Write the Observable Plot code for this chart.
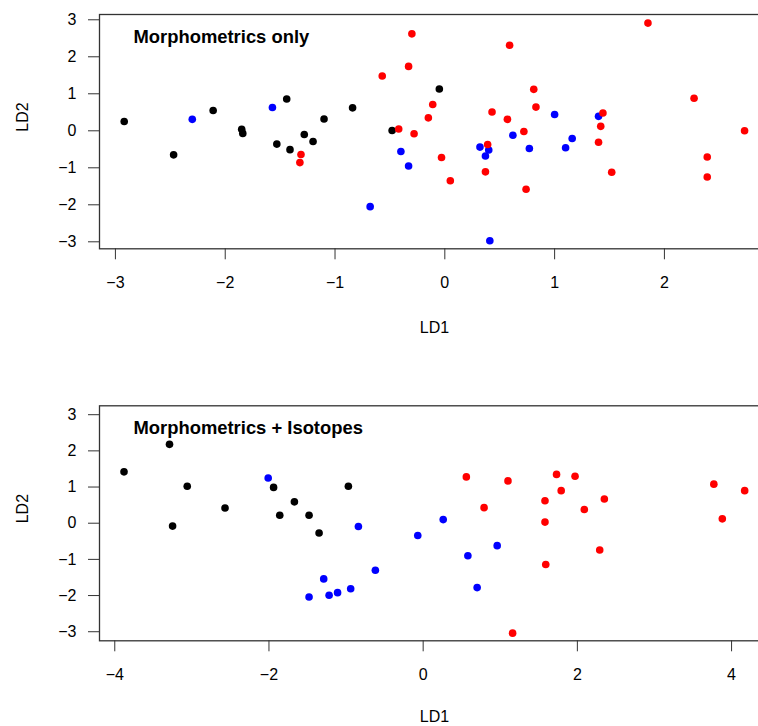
<!DOCTYPE html>
<html>
<head>
<meta charset="utf-8">
<script src="https://cdn.jsdelivr.net/npm/d3@7"></script>
<script src="https://cdn.jsdelivr.net/npm/@observablehq/plot@0.6"></script>
<style>
  html, body { margin: 0; padding: 0; background: #fff; overflow: hidden; width: 758px; }
  svg { display: block; max-width: none !important; }
</style>
</head>
<body>
<div id="chart"></div>
<script>
// ---- data ----
const groupNames = ["group 1", "group 2", "group 3"];
const groupColors = ["#000000", "#0000ff", "#ff0000"];

// Panel 1: Morphometrics only
const morphBlackLD1 = [-2.92, -2.47, -2.11, -1.85, -1.84, -1.44, -1.53, -1.41, -1.28, -1.20, -1.10, -0.84, -0.48, -0.05];
const morphBlackLD2 = [0.25, -0.65, 0.55, 0.04, -0.07, 0.86, -0.36, -0.51, -0.10, -0.29, 0.32, 0.62, 0.01, 1.13];
const morphBlueLD1 = [-2.30, -1.57, -0.68, -0.40, -0.33, 0.32, 0.40, 0.37, 0.62, 0.77, 0.41, 1.00, 1.16, 1.10, 1.40];
const morphBlueLD2 = [0.31, 0.63, -2.05, -0.56, -0.95, -0.44, -0.52, -0.68, -0.12, -0.48, -2.97, 0.44, -0.21, -0.46, 0.39];
const morphRedLD1 = [-1.31, -1.32, -0.57, -0.30, -0.33, -0.42, -0.28, -0.11, -0.15, -0.03, 0.05, 0.59, 0.81, 0.43, 0.83, 0.57, 0.72, 0.39, 0.37, 0.74, 1.85, 1.44, 1.42, 1.40, 1.52, 2.27, 2.73, 2.39, 2.39];
const morphRedLD2 = [-0.64, -0.86, 1.48, 2.62, 1.74, 0.05, -0.08, 0.71, 0.35, -0.72, -1.35, 2.31, 1.12, 0.51, 0.64, 0.31, -0.02, -0.37, -1.11, -1.58, 2.91, 0.48, 0.12, -0.31, -1.12, 0.88, 0.00, -0.71, -1.25];

// Panel 2: Morphometrics + Isotopes
const isoBlackLD1 = [-3.88, -3.29, -3.25, -3.06, -2.57, -1.94, -1.86, -1.67, -1.48, -1.35, -0.97];
const isoBlackLD2 = [1.42, 2.18, -0.08, 1.02, 0.42, 0.99, 0.22, 0.59, 0.22, -0.27, 1.02];
const isoBlueLD1 = [-2.01, -0.84, -0.07, -0.62, -1.29, -1.48, -1.22, -1.11, -0.94, 0.26, 0.58, 0.96, 0.70];
const isoBlueLD2 = [1.25, -0.09, -0.34, -1.30, -1.54, -2.04, -1.99, -1.92, -1.81, 0.10, -0.90, -0.62, -1.78];
const isoRedLD1 = [0.56, 1.10, 0.79, 1.16, 1.73, 1.97, 1.79, 1.58, 2.35, 2.09, 1.58, 2.29, 1.59, 3.77, 4.17, 3.88];
const isoRedLD2 = [1.28, 1.17, 0.43, -3.04, 1.35, 1.30, 0.90, 0.62, 0.67, 0.38, 0.03, -0.74, -1.14, 1.08, 0.90, 0.12];

// ticks and labels
const morphXTicks = [-3, -2, -1, 0, 1, 2];
const morphYTicks = [-3, -2, -1, 0, 1, 2, 3];
const isoXTicks = [-4, -2, 0, 2, 4];
const isoYTicks = [-3, -2, -1, 0, 1, 2, 3];
const panelTitles = ["Morphometrics only", "Morphometrics + Isotopes"];
const xTitle = "LD1";
const yTitle = "LD2";

// ---- build rows ----
function rows(xs, ys, g) { return xs.map((x, i) => ({ld1: x, ld2: ys[i], group: g})); }
const morphRows = [
  ...rows(morphBlackLD1, morphBlackLD2, groupNames[0]),
  ...rows(morphBlueLD1, morphBlueLD2, groupNames[1]),
  ...rows(morphRedLD1, morphRedLD2, groupNames[2])
];
const isoRows = [
  ...rows(isoBlackLD1, isoBlackLD2, groupNames[0]),
  ...rows(isoBlueLD1, isoBlueLD2, groupNames[1]),
  ...rows(isoRedLD1, isoRedLD2, groupNames[2])
];

const fmt = d => d < 0 ? "\u2212" + Math.abs(d) : String(d);
const font = "'Liberation Sans', Arial, Helvetica, sans-serif";

function panel({data, xDomain, yDomain, xTicks, yTicks, title, height, marginTop, marginBottom, xTitleDy}) {
  return Plot.plot({
    width: 780,
    height,
    marginLeft: 99,
    marginRight: 11,
    marginTop,
    marginBottom,
    style: {fontFamily: font, fontSize: "16px", color: "#000", background: "#fff", maxWidth: "none"},
    x: {domain: xDomain},
    y: {domain: yDomain},
    color: {domain: groupNames, range: groupColors},
    marks: [
      Plot.axisX(xTicks, {tickSize: 11, tickPadding: 17, label: null, tickFormat: fmt, fontSize: 16, stroke: "#333", fill: "#000"}),
      Plot.axisY(yTicks, {tickSize: 11, tickPadding: 12, label: null, tickFormat: fmt, fontSize: 16, stroke: "#333", fill: "#000"}),
      Plot.dot(data, {x: "ld1", y: "ld2", fill: "group", r: 3.8}),
      Plot.frame({stroke: "#333", strokeWidth: 1.3}),
      Plot.text([title], {text: d => d, frameAnchor: "top-left", dx: 34, dy: 22.5, lineAnchor: "middle", textAnchor: "start", fontWeight: "bold", fontSize: 18.4, fill: "#000"}),
      Plot.text([xTitle], {text: d => d, frameAnchor: "bottom", dy: xTitleDy, lineAnchor: "middle", fontSize: 16, fill: "#000"}),
      Plot.text([yTitle], {text: d => d, frameAnchor: "left", dx: -77, rotate: -90, lineAnchor: "middle", fontSize: 16, fill: "#000"})
    ]
  });
}

const chart = document.getElementById("chart");
chart.appendChild(panel({
  data: morphRows,
  xDomain: [-3.145, 2.957],
  yDomain: [-3.189, 3.143],
  xTicks: morphXTicks, yTicks: morphYTicks,
  title: panelTitles[0],
  height: 392, marginTop: 14, marginBottom: 143.7, xTitleDy: 79
}));
chart.appendChild(panel({
  data: isoRows,
  xDomain: [-4.198, 4.492],
  yDomain: [-3.251, 3.246],
  xTicks: isoXTicks, yTicks: isoYTicks,
  title: panelTitles[1],
  height: 334, marginTop: 13.3, marginBottom: 85.7, xTitleDy: 76
}));
</script>
</body>
</html>
